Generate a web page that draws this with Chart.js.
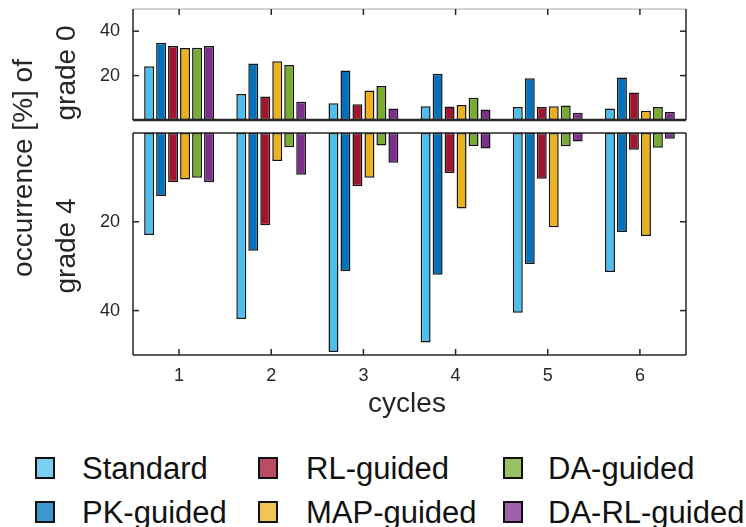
<!DOCTYPE html>
<html>
<head>
<meta charset="utf-8">
<script src="https://cdn.jsdelivr.net/npm/chart.js@4.4.1/dist/chart.umd.min.js"></script>
<style>
  body { margin: 0; background: #fff; }
  #wrap { position: relative; width: 746px; height: 527px; overflow: hidden; font-family: "Liberation Sans", Arial, sans-serif; color: #262626; }
  canvas { position: absolute; left: 0; }
  .lbl { position: absolute; font-size: 28px; line-height: 28px; white-space: nowrap; text-align: center; }
  .rot { transform: translate(-50%, -50%) rotate(-90deg); }
  .leg { position: absolute; font-size: 31px; line-height: 31px; white-space: nowrap; color: #111; }
  .box { position: absolute; width: 20px; height: 22px; border: 2px solid #111; box-sizing: border-box; }
</style>
</head>
<body>
<div id="wrap">
  <canvas id="top" width="746" height="128" style="top:0"></canvas>
  <canvas id="bottom" width="746" height="270" style="top:125px"></canvas>
  <div class="lbl rot" style="left:23px; top:168px;">occurrence [%] of</div>
  <div class="lbl rot" style="left:66px; top:73px;">grade 0</div>
  <div class="lbl rot" style="left:66px; top:246px;">grade 4</div>
  <div class="lbl" style="left:407px; top:389px; transform:translateX(-50%);">cycles</div>
  <div id="legend"></div>
</div>
<script>
// cycles on the x axis
const cycles = ['1', '2', '3', '4', '5', '6'];
const seriesNames = ['Standard', 'PK-guided', 'RL-guided', 'MAP-guided', 'DA-guided', 'DA-RL-guided'];
const seriesColors = ['#4DBEEE', '#0072BD', '#A2142F', '#EDB120', '#77AC30', '#7E2F8E'];
const yTicks = [20, 40];

// grade 0 occurrence [%]
const g0Standard = [24.2, 11.7, 7.6, 6.2, 5.9, 5.2];
const g0PK       = [34.8, 25.5, 22.3, 20.8, 18.8, 19.1];
const g0RL       = [33.3, 10.6, 7.1, 6.1, 5.9, 12.4];
const g0MAP      = [32.4, 26.5, 13.3, 6.8, 6.2, 4.2];
const g0DA       = [32.6, 24.8, 15.3, 10.0, 6.5, 5.8];
const g0DARL     = [33.3, 8.2, 5.2, 4.7, 3.3, 3.6];

// grade 4 occurrence [%]
const g4Standard = [23.0, 41.9, 49.3, 47.2, 40.5, 31.3];
const g4PK       = [14.2, 26.5, 31.1, 31.9, 29.5, 22.3];
const g4RL       = [11.1, 20.8, 12.0, 9.0, 10.3, 3.8];
const g4MAP      = [10.5, 6.3, 10.1, 17.0, 21.2, 23.2];
const g4DA       = [10.1, 3.2, 2.8, 2.9, 3.0, 3.3];
const g4DARL     = [11.1, 9.4, 6.7, 3.5, 1.9, 1.3];

const grade0 = [g0Standard, g0PK, g0RL, g0MAP, g0DA, g0DARL];
const grade4 = [g4Standard, g4PK, g4RL, g4MAP, g4DA, g4DARL];

Chart.defaults.font.family = '"Liberation Sans", Arial, sans-serif';
Chart.defaults.color = '#262626';

// box around the plot and inward tick marks
const frame = {
    id: 'frame',
    afterDraw(chart, args, opts) {
        const ctx = chart.ctx;
        const a = chart.chartArea;
        const x = chart.scales.x, y = chart.scales.y;
        function line(x1, y1, x2, y2, col, w) {
            ctx.beginPath();
            ctx.strokeStyle = col || '#262626';
            ctx.lineWidth = w || 1.5;
            ctx.moveTo(x1, y1);
            ctx.lineTo(x2, y2);
            ctx.stroke();
        }
        ctx.save();
        line(a.left, a.top, a.right, a.top, opts.topColor);
        line(a.left, a.top, a.left, a.bottom);
        line(a.right, a.top, a.right, a.bottom);
        line(a.left, a.bottom, a.right, a.bottom, null, opts.bottomWidth);
        y.ticks.forEach(t => {
            const py = y.getPixelForValue(t.value);
            line(a.left, py, a.left + 6, py);
            line(a.right, py, a.right - 6, py);
        });
        x.ticks.forEach((t, i) => {
            const px = x.getPixelForTick(i);
            if (opts.xTicks === 'top') line(px, a.top, px, a.top + 6);
            else line(px, a.bottom, px, a.bottom - 6);
        });
        ctx.restore();
    }
};

function makeDatasets(values) {
    return values.map((v, i) => ({
        label: seriesNames[i],
        data: v,
        backgroundColor: seriesColors[i],
        borderColor: '#141414',
        borderWidth: 1.5,
        borderSkipped: false,
        categoryPercentage: 0.78,
        barPercentage: 0.83
    }));
}

function makeChart(id, values, isBottom) {
    const ctx = document.getElementById(id).getContext('2d');
    return new Chart(ctx, {
        type: 'bar',
        data: { labels: cycles, datasets: makeDatasets(values) },
        options: {
            responsive: false,
            animation: false,
            devicePixelRatio: 1,
            layout: { padding: { top: isBottom ? 8 : 9, right: 60, bottom: isBottom ? 0 : 8, left: 0 } },
            plugins: {
                legend: { display: false },
                tooltip: { enabled: false },
                frame: { xTicks: isBottom ? 'bottom' : 'top', topColor: isBottom ? '#262626' : '#c4c4c4', bottomWidth: isBottom ? 1.5 : 2.5 }
            },
            scales: {
                x: {
                    offset: true,
                    grid: { display: false },
                    border: { display: false },
                    ticks: { display: isBottom, padding: 2, font: { size: 18 }, maxRotation: 0 },
                    afterFit: s => { s.height = isBottom ? 40 : 0; s.paddingLeft = 0; s.paddingRight = 0; }
                },
                y: {
                    min: 0,
                    max: 50,
                    reverse: isBottom,
                    grid: { display: false },
                    border: { display: false },
                    ticks: { padding: 5, font: { size: 18 } },
                    afterBuildTicks: s => { s.ticks = yTicks.map(v => ({ value: v })); },
                    afterFit: s => { s.width = 133; s.paddingTop = 0; s.paddingBottom = 0; }
                }
            }
        },
        plugins: [frame]
    });
}

makeChart('top', grade0, false);
makeChart('bottom', grade4, true);

// legend below the plot, three columns by two rows
const legendPos = [
    [35, 82, 457], [35, 82, 501],
    [258, 306, 457], [258, 306, 501],
    [503, 548, 457], [503, 548, 501]
];
const legend = document.getElementById('legend');
seriesNames.forEach((name, k) => {
    const p = legendPos[k];
    const box = document.createElement('div');
    box.className = 'box';
    box.style.left = p[0] + 'px';
    box.style.top = p[2] + 'px';
    box.style.background = seriesColors[k] + 'C0';
    legend.appendChild(box);
    const txt = document.createElement('div');
    txt.className = 'leg';
    txt.style.left = p[1] + 'px';
    txt.style.top = (p[2] - 4) + 'px';
    txt.textContent = name;
    legend.appendChild(txt);
});
</script>
</body>
</html>
